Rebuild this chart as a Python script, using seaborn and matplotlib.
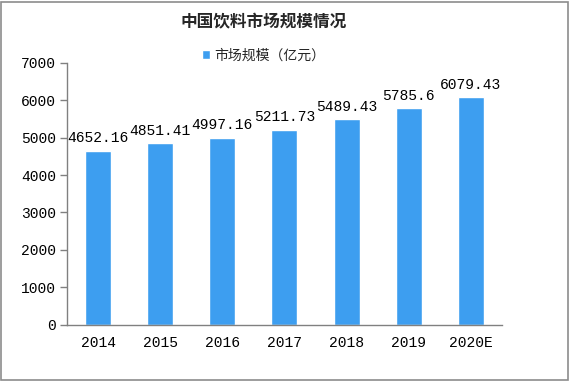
import matplotlib
matplotlib.use("Agg")
import matplotlib.pyplot as plt
import seaborn as sns
import pandas as pd
from matplotlib.patches import Rectangle

years = ["2014", "2015", "2016", "2017", "2018", "2019", "2020E"]
values = [4652.16, 4851.41, 4997.16, 5211.73, 5489.43, 5785.6, 6079.43]
labels = ["4652.16", "4851.41", "4997.16", "5211.73", "5489.43", "5785.6", "6079.43"]
series_name = "市场规模（亿元）"
title = "中国饮料市场规模情况"

sns.set_theme(style="white")
plt.rcParams['font.family'] = ['Noto Sans CJK SC', 'DejaVu Sans']

df = pd.DataFrame({"year": years, "value": values})

fig = plt.figure(figsize=(5.70, 3.81), dpi=100)
ax = fig.add_axes([0.1175, 0.148, 0.763, 0.687])
color = "#3d9ef0"
sns.barplot(data=df, x="year", y="value", color=color, width=0.42, ax=ax,
            saturation=1, label=series_name)

ax.set_xlim(-0.5, len(years) - 0.5)
ax.set_ylim(0, 7000)
ax.set_yticks(range(0, 7001, 1000))
ax.set_xlabel("")
ax.set_ylabel("")

numfont = dict(family=['Liberation Mono', 'DejaVu Sans Mono'], size=10.5, color="black")
for i, (v, t) in enumerate(zip(values, labels)):
    ax.text(i, v + 150, t, ha="center", va="bottom", **numfont)

ax.set_xticks(range(len(years)))
ax.set_xticklabels(years, **numfont)
ax.set_yticklabels([str(v) for v in range(0, 7001, 1000)], **numfont)

# category boundary ticks on x
ax.set_xticks([i - 0.5 for i in range(len(years) + 1)], minor=True)
ax.tick_params(axis="x", which="major", length=0, pad=8)
ax.tick_params(axis="x", which="minor", length=5, color="#808080", width=1, direction="out")
ax.tick_params(axis="y", length=5, color="#808080", width=1, direction="out", left=True, pad=3)

for s in ["top", "right"]:
    ax.spines[s].set_visible(False)
for s in ["left", "bottom"]:
    ax.spines[s].set_color("#808080")
    ax.spines[s].set_linewidth(1)

fig.text(0.462, 0.942, title, ha="center", va="center", fontsize=12, fontweight="bold",
         family=['Noto Sans CJK SC', 'DejaVu Sans'])
leg = ax.legend(loc="center", bbox_to_anchor=(0.462, 0.855), bbox_transform=fig.transFigure,
                frameon=False, fontsize=10, handlelength=0.6, handleheight=0.6, handletextpad=0.3)

fig.patches.append(Rectangle((0.002, 0.003), 0.995, 0.993, transform=fig.transFigure,
                             fill=False, edgecolor="#8c8c8c", linewidth=1.2))

fig.savefig("out.png", dpi=100)
